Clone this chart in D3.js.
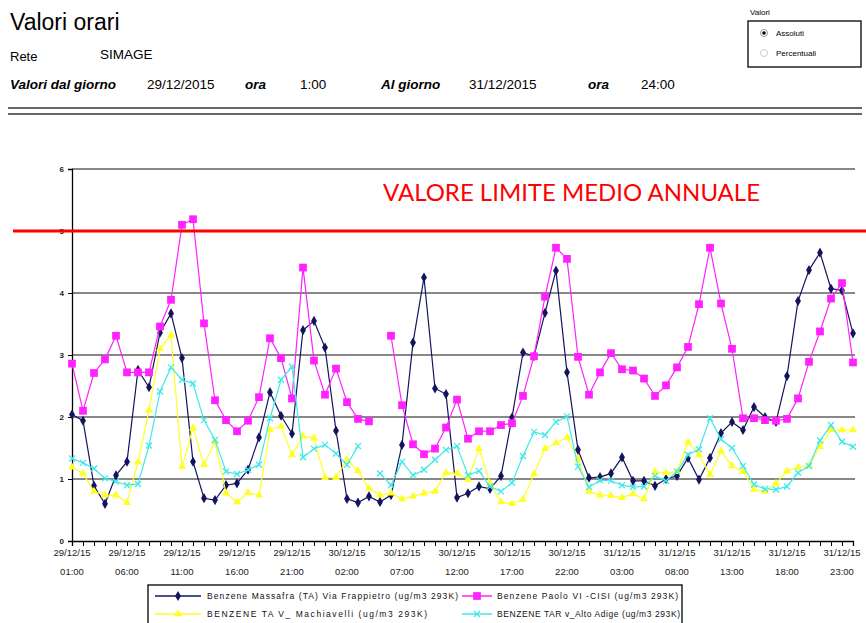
<!DOCTYPE html>
<html>
<head>
<meta charset="utf-8">
<script src="https://cdn.jsdelivr.net/npm/d3@7"></script>
<style>
  body { margin: 0; background: #fff; }
  svg text { font-family: "Liberation Sans", Arial, sans-serif; }
</style>
</head>
<body>
<svg id="chart"></svg>
<script>
// Valori orari - benzene, 29/12/2015 01:00 -> 31/12/2015 24:00
const massafra = [2.04, 1.94, 0.89, 0.60, 1.06, 1.28, 2.76, 2.48, 3.36, 3.67,
  2.95, 1.28, 0.69, 0.66, 0.90, 0.93, 1.15, 1.67, 2.40, 2.02,
  1.73, 3.40, 3.55, 3.12, 1.78, 0.68, 0.62, 0.72, 0.63, 0.74,
  1.55, 3.20, 4.25, 2.46, 2.37, 0.70, 0.77, 0.88, 0.84, 1.05,
  1.99, 3.04, 2.98, 3.68, 4.36, 2.72, 1.47, 1.02, 1.03, 1.09,
  1.35, 0.97, 0.97, 0.89, 1.00, 1.05, 1.34, 0.99, 1.34, 1.74,
  1.92, 1.79, 2.16, 2.00, 1.92, 2.66, 3.87, 4.37, 4.65, 4.07,
  4.04, 3.35];
const paoloVI = [2.86, 2.10, 2.71, 2.93, 3.31, 2.72, 2.72, 2.72, 3.46, 3.89,
  5.10, 5.19, 3.51, 2.27, 1.95, 1.77, 1.94, 2.32, 3.27, 2.95,
  2.30, 4.41, 2.91, 2.36, 2.78, 2.24, 1.97, 1.93, null, 3.31,
  2.19, 1.56, 1.40, 1.49, 1.83, 2.28, 1.65, 1.77, 1.77, 1.87,
  1.90, 2.34, 2.98, 3.94, 4.73, 4.55, 2.97, 2.36, 2.72, 3.03,
  2.77, 2.75, 2.62, 2.34, 2.51, 2.80, 3.13, 3.82, 4.73, 3.83,
  3.10, 1.98, 1.98, 1.95, 1.94, 1.97, 2.30, 2.89, 3.38, 3.91,
  4.16, 2.88];
const machiavelli = [1.19, 1.09, 0.80, 0.74, 0.74, 0.62, 1.27, 2.11, 3.10, 3.32,
  1.20, 1.82, 1.23, 1.60, 0.77, 0.63, 0.78, 0.74, 1.79, 1.85,
  1.39, 1.69, 1.66, 1.02, 1.02, 1.31, 1.13, 0.85, 0.74, 0.77,
  0.68, 0.72, 0.77, 0.80, 1.10, 1.09, 0.99, 1.49, 0.93, 0.63,
  0.60, 0.67, 1.08, 1.49, 1.58, 1.67, 1.32, 0.80, 0.74, 0.73,
  0.70, 0.76, 0.68, 1.12, 1.10, 1.12, 1.59, 1.39, 1.07, 1.45,
  1.21, 1.12, 0.83, 0.80, 0.93, 1.13, 1.19, 1.21, 1.52, 1.79,
  1.79, 1.79];
const altoAdige = [1.33, 1.26, 1.17, 1.01, 0.96, 0.90, 0.92, 1.54, 2.41, 2.80,
  2.60, 2.54, 1.95, 1.63, 1.12, 1.08, 1.15, 1.23, 1.98, 2.60,
  2.81, 1.35, 1.49, 1.55, 1.41, 1.23, 1.53, null, 1.09, 0.90,
  1.28, 1.06, 1.15, 1.31, 1.47, 1.53, 1.06, 1.13, 0.88, 0.80,
  0.94, 1.37, 1.76, 1.71, 1.92, 2.01, 1.20, 0.87, 0.98, 0.97,
  0.90, 0.87, 0.88, 1.05, 0.97, 1.12, 1.39, 1.48, 1.98, 1.64,
  1.50, 1.21, 0.91, 0.84, 0.83, 0.88, 1.10, 1.21, 1.62, 1.87,
  1.60, 1.52];

const seriesNames = [
  "Benzene Massafra (TA) Via Frappietro (ug/m3 293K)",
  "Benzene Paolo VI -CISI (ug/m3 293K)",
  "BENZENE TA V_ Machiavelli (ug/m3 293K)",
  "BENZENE TAR v_Alto Adige (ug/m3 293K)"
];
const yTicks = [0, 1, 2, 3, 4, 5, 6];
const limitValue = 5;
const limitLabel = "VALORE LIMITE MEDIO ANNUALE";

// one category per hour
const hours = d3.timeHour.range(new Date(2015, 11, 29, 1), new Date(2016, 0, 1, 1));
const fmtDay = d3.timeFormat("%d/%m/%y");
const fmtHour = d3.timeFormat("%H:%M");

const width = 866, height = 623;
const svg = d3.select("#chart").attr("width", width).attr("height", height);

// ---- header ----
svg.append("text").attr("x", 10).attr("y", 30).style("font-size", "23px").text("Valori orari");
svg.append("text").attr("x", 10).attr("y", 61).style("font-size", "13px").text("Rete");
svg.append("text").attr("x", 100).attr("y", 59).style("font-size", "13.5px").text("SIMAGE");

const headerRow = [
  { t: "Valori dal giorno", x: 10, bi: true },
  { t: "29/12/2015", x: 147 },
  { t: "ora", x: 245, bi: true },
  { t: "1:00", x: 300 },
  { t: "Al giorno", x: 381, bi: true },
  { t: "31/12/2015", x: 469 },
  { t: "ora", x: 588, bi: true },
  { t: "24:00", x: 641 }
];
svg.selectAll(".hdr").data(headerRow).enter().append("text")
  .attr("x", d => d.x).attr("y", 89)
  .style("font-size", "13.5px")
  .style("font-weight", d => d.bi ? "bold" : "normal")
  .style("font-style", d => d.bi ? "italic" : "normal")
  .text(d => d.t);

[108, 114].forEach(yy => {
  svg.append("line").attr("x1", 8).attr("x2", 862).attr("y1", yy).attr("y2", yy)
    .attr("stroke", "#333").attr("stroke-width", 1.5);
});

// radio box
svg.append("text").attr("x", 750).attr("y", 15).style("font-size", "8px").text("Valori");
svg.append("rect").attr("x", 748).attr("y", 21).attr("width", 113).attr("height", 46)
  .attr("fill", "none").attr("stroke", "#000").attr("stroke-width", 1.3);
svg.append("circle").attr("cx", 764).attr("cy", 33).attr("r", 3.5).attr("fill", "#fff").attr("stroke", "#999");
svg.append("circle").attr("cx", 764).attr("cy", 33).attr("r", 1.8).attr("fill", "#000");
svg.append("circle").attr("cx", 764).attr("cy", 53).attr("r", 3.5).attr("fill", "#fff").attr("stroke", "#ccc");
svg.append("text").attr("x", 776).attr("y", 36).style("font-size", "8px").text("Assoluti");
svg.append("text").attr("x", 776).attr("y", 56).style("font-size", "8px").text("Percentuali");

// ---- chart ----
const x = d3.scaleLinear().domain([0, hours.length - 1]).range([72, 853]);
const y = d3.scaleLinear().domain([0, 6]).range([541, 169]);
const plotRight = 855;

// gridlines
svg.append("g").selectAll("line").data(yTicks.filter(v => v > 0)).enter().append("line")
  .attr("x1", 72).attr("x2", plotRight)
  .attr("y1", d => y(d)).attr("y2", d => y(d))
  .attr("stroke", "#111").attr("stroke-width", 1);

// y axis
const yAxis = svg.append("g").attr("transform", "translate(72,0)")
  .call(d3.axisLeft(y).tickValues(yTicks).tickSize(4).tickFormat(d3.format("d")));
yAxis.select(".domain").attr("stroke", "#000").attr("stroke-width", 1.3);
yAxis.selectAll("text").style("font-size", "8px").style("font-weight", "bold")
  .attr("fill", "#222").attr("x", -8);

// x axis
const xAxis = svg.append("g").attr("transform", "translate(0,541)")
  .call(d3.axisBottom(x).tickValues(d3.range(hours.length)).tickSize(5).tickFormat(""));
xAxis.select(".domain").attr("stroke", "#000").attr("stroke-width", 1.3);

const labelled = hours.map((h, i) => ({ h, i })).filter(d => d.i % 5 === 0);
const xl = svg.append("g").selectAll("g").data(labelled).enter().append("g");
xl.append("text").attr("x", d => x(d.i)).attr("y", 556).attr("text-anchor", "middle")
  .style("font-size", "9.5px").attr("fill", "#222").text(d => fmtDay(d.h));
xl.append("text").attr("x", d => x(d.i)).attr("y", 575).attr("text-anchor", "middle")
  .style("font-size", "9.5px").attr("fill", "#222").text(d => fmtHour(d.h));

// series
const xPath = "M-3,-3L3,3M-3,3L3,-3";
const series = [
  { values: massafra, color: "#14145e", symbol: d3.symbol(d3.symbolDiamond, 30)() },
  { values: paoloVI, color: "#ff22ff", symbol: d3.symbol(d3.symbolSquare, 60)() },
  { values: machiavelli, color: "#ffff22", symbol: d3.symbol(d3.symbolTriangle, 28)() },
  { values: altoAdige, color: "#40e8e8", symbol: xPath, stroke: true }
];

const line = d3.line()
  .defined(d => d != null)
  .x((d, i) => x(i))
  .y(d => y(d));

series.forEach(s => {
  svg.append("path").datum(s.values)
    .attr("fill", "none").attr("stroke", s.color).attr("stroke-width", 1.2)
    .attr("d", line);
  svg.append("g").selectAll("path")
    .data(s.values.map((v, i) => ({ v, i })).filter(d => d.v != null))
    .enter().append("path")
    .attr("transform", d => `translate(${x(d.i)},${y(d.v)})`)
    .attr("d", s.symbol)
    .attr("fill", s.stroke ? "none" : s.color)
    .attr("stroke", s.stroke ? s.color : "none")
    .attr("stroke-width", 1.3);
});

// limit line
svg.append("line").attr("x1", 13).attr("x2", width)
  .attr("y1", y(limitValue)).attr("y2", y(limitValue))
  .attr("stroke", "#ff0000").attr("stroke-width", 3);
svg.append("text").attr("x", 383).attr("y", 201)
  .attr("textLength", 377).attr("lengthAdjust", "spacingAndGlyphs")
  .style("font-family", "Lato, 'Open Sans', sans-serif").style("font-size", "23px")
  .attr("fill", "#ff0000").text(limitLabel);

// legend
svg.append("rect").attr("x", 148).attr("y", 585).attr("width", 534).attr("height", 50)
  .attr("fill", "#fff").attr("stroke", "#000").attr("stroke-width", 1.3);
const legendPos = [
  { lx: 155, ly: 596, tx: 207, tw: 251 },
  { lx: 462, ly: 596, tx: 497, tw: 181 },
  { lx: 155, ly: 614, tx: 207, tw: 220 },
  { lx: 462, ly: 614, tx: 497, tw: 183 }
];
series.forEach((s, k) => {
  const p = legendPos[k];
  const lw = k % 2 === 0 ? 46 : 30;
  svg.append("line").attr("x1", p.lx).attr("x2", p.lx + lw).attr("y1", p.ly).attr("y2", p.ly)
    .attr("stroke", s.color).attr("stroke-width", 1.5);
  svg.append("path").attr("transform", `translate(${p.lx + lw / 2},${p.ly})`)
    .attr("d", s.symbol)
    .attr("fill", s.stroke ? "none" : s.color)
    .attr("stroke", s.stroke ? s.color : "none").attr("stroke-width", 1.3);
  svg.append("text").attr("x", p.tx).attr("y", p.ly + 3)
    .attr("textLength", p.tw).attr("lengthAdjust", "spacing")
    .style("font-size", "8.5px").attr("fill", "#111").text(seriesNames[k]);
});
</script>
</body>
</html>
